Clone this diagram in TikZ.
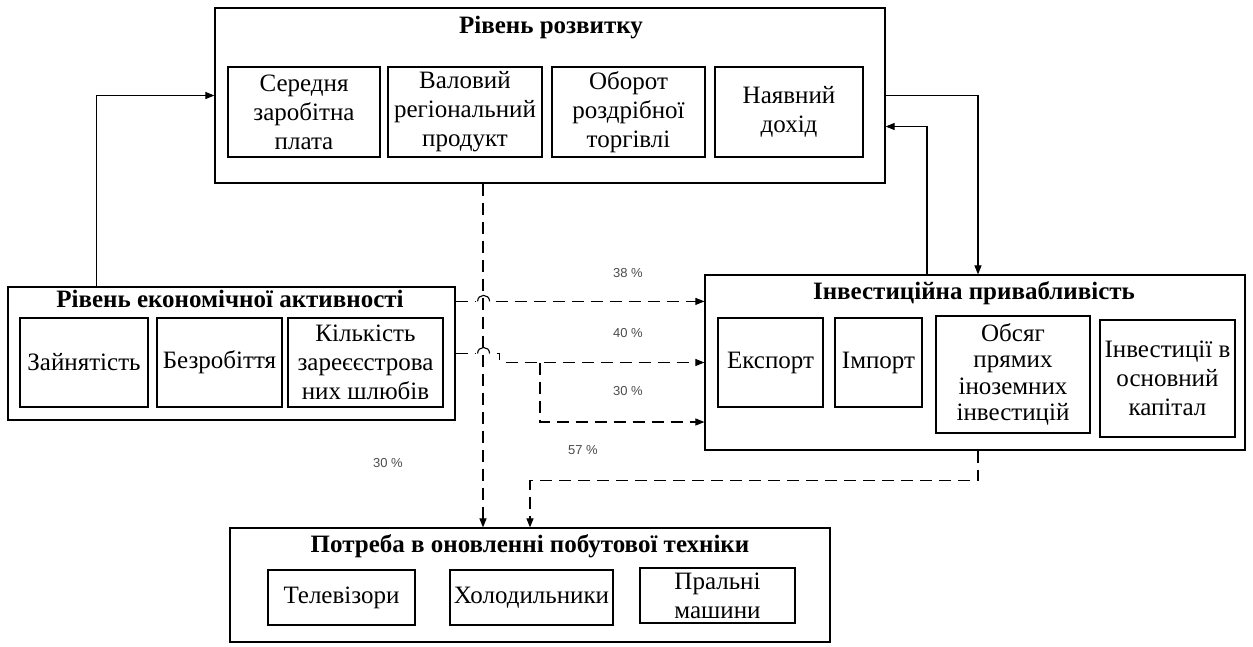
\documentclass[tikz,border=0pt]{standalone}
\usepackage{fontspec}
\setmainfont{Liberation Serif}
\newfontfamily\labelfont{Liberation Sans}
\usetikzlibrary{arrows.meta,calc}
\begin{document}
\begin{tikzpicture}[x=1pt,y=-1pt]
\tikzset{
  frame/.style={draw, line width=1.2pt, inner sep=0pt},
  cell/.style={draw, line width=1.2pt, inner sep=0pt, align=center,
    font=\fontsize{25}{29}\selectfont},
  ttl/.style={font=\bfseries\fontsize{25}{29}\selectfont, inner sep=0pt},
  link/.style={line width=1.1pt, -{Triangle[length=9pt,width=7pt]}},
  dlink/.style={link, dash pattern=on 12pt off 7pt},
  dline/.style={line width=1.1pt, dash pattern=on 12pt off 7pt},
  hop/.style={line width=1.1pt},
  pct/.style={font=\labelfont\fontsize{13}{15}\selectfont, text=black!70, inner sep=0pt},
}
\fill[white] (0,0) rectangle (1253,646);
\useasboundingbox (0,0) rectangle (1253,646);

% Level of development
\node[frame, minimum width=670pt, minimum height=175pt] (top) at (550,95.5) {};
\node[ttl] (toptitle) at (551,28) {Рівень розвитку};
\node[cell, minimum width=152pt, minimum height=90pt] (t1) at (304,112) {Середня\\заробітна\\плата};
\node[cell, minimum width=154pt, minimum height=90pt] (t2) at (465,112) {Валовий\\регіональний\\продукт};
\node[cell, minimum width=153pt, minimum height=90pt] (t3) at (628.5,112) {Оборот\\роздрібної\\торгівлі};
\node[cell, minimum width=148pt, minimum height=90pt] (t4) at (789,112) {Наявний\\дохід};

% Level of economic activity
\node[frame, minimum width=447pt, minimum height=133pt] (left) at (231.5,353.5) {};
\node[ttl] (lefttitle) at (230,299) {Рівень економічної активності};
\node[cell, minimum width=128pt, minimum height=89pt] (l1) at (84,362.5) {Зайнятість};
\node[cell, minimum width=125pt, minimum height=89pt] (l2) at (219.5,362.5) {Безробіття};
\node[cell, minimum width=155pt, minimum height=89pt] (l3) at (365.5,362.5) {Кількість\\зареєєстрова\\них шлюбів};

% Investment attractiveness
\node[frame, minimum width=540pt, minimum height=175pt] (right) at (975,362.5) {};
\node[ttl] (righttitle) at (974,293) {Інвестиційна привабливість};
\node[cell, minimum width=105pt, minimum height=89pt] (r1) at (770.5,362.5) {Експорт};
\node[cell, minimum width=87pt, minimum height=89pt] (r2) at (878.5,362.5) {Імпорт};
\node[cell, minimum width=154pt, minimum height=117pt, font=\fontsize{25}{26.5}\selectfont] (r3) at (1013,374.5) {Обсяг\\прямих\\іноземних\\інвестицій};
\node[cell, minimum width=135pt, minimum height=117pt] (r4) at (1167.5,378.5) {Інвестиції в\\основний\\капітал};

% Need to renew household appliances
\node[frame, minimum width=600pt, minimum height=114pt] (bottom) at (530,585) {};
\node[ttl] (bottomtitle) at (530,546) {Потреба в оновленні побутової техніки};
\node[cell, minimum width=147pt, minimum height=55pt] (b1) at (341.5,597.5) {Телевізори};
\node[cell, minimum width=163pt, minimum height=55pt] (b2) at (531.5,597.5) {Холодильники};
\node[cell, minimum width=155pt, minimum height=55pt] (b3) at (717.5,595.5) {Пральні\\машини};

% Solid feedback links
\draw[link] ([xshift=89pt]left.north west) |- (top.west);
\draw[link] (top.east) -| ([xshift=3pt]right.north);
\draw[link] ([xshift=-48pt]right.north) |- ([yshift=-31pt]top.east);

% Dashed influence links
\draw[dlink] ([xshift=-67pt]top.south) -- ([xshift=-47pt]bottom.north);

% upper link, hopping over the vertical one
\coordinate (a1) at ([yshift=-15pt]left.north east);
\coordinate (h1) at ([xshift=22pt]a1);
\coordinate (h2) at ([xshift=34pt]a1);
\draw[dline] (a1) -- ([xshift=-2pt]h1);
\draw[hop] (h1) .. controls +(0,-8) and +(0,-8) .. (h2);
\draw[dlink] ([xshift=6pt]h2) -- (a1 -| right.west);

% lower link, hopping over the vertical one
\coordinate (h3) at ([xshift=22pt]left.east);
\coordinate (h4) at ([xshift=34pt]left.east);
\draw[dline] (left.east) -- ([xshift=-2pt]h3);
\draw[hop] (h3) .. controls +(0,-8) and +(0,-8) .. (h4);
\draw[dlink] ([xshift=7pt]h4) -- ++(3,0) -- ++(0,6) (h4 |- right.west) ++(16,0) -- (right.west);

% branch to the lower entry
\coordinate (br) at (540,362.5);
\coordinate (a3) at ([yshift=-59.5pt]right.west);
\draw[dlink] (br) |- (a3);

\draw[dlink] ([xshift=3pt]right.south) -- ++(0,30) -| (bottom.north);

% Shares
\node[pct] (p1) at (628,273) {38 \%};
\node[pct] (p2) at (628,333) {40 \%};
\node[pct] (p3) at (628,391) {30 \%};
\node[pct] (p4) at (583,450) {57 \%};
\node[pct] (p5) at (388,463) {30 \%};
\end{tikzpicture}
\end{document}
